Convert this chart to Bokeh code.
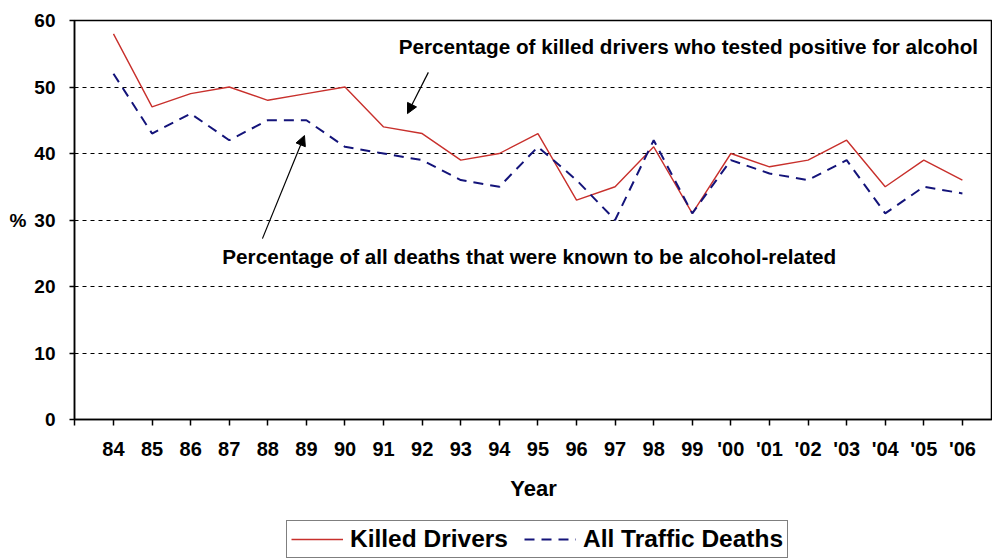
from bokeh.plotting import figure
from bokeh.layouts import column
from bokeh.models import (Range1d, FixedTicker, Legend, LegendItem, Label, Arrow,
                          NormalHead)
from bokeh.embed import file_html
from bokeh.resources import INLINE

# ---- data ----
years = ["84", "85", "86", "87", "88", "89", "90", "91", "92", "93", "94", "95",
         "96", "97", "98", "99", "'00", "'01", "'02", "'03", "'04", "'05", "'06"]
killed_drivers = [58, 47, 49, 50, 48, 49, 50, 44, 43, 39, 40, 43,
                  33, 35, 41, 31, 40, 38, 39, 42, 35, 39, 36]
all_traffic_deaths = [52, 43, 46, 42, 45, 45, 41, 40, 39, 36, 35, 41,
                      36, 30, 42, 31, 39, 37, 36, 39, 31, 35, 34]
y_ticks = [0, 10, 20, 30, 40, 50, 60]
series_names = ["Killed Drivers", "All Traffic Deaths"]

FONT = "Liberation Sans"
RED = "#c8302c"
BLUE = "#14147a"
x = list(range(len(years)))

p = figure(width=992, height=513, output_backend="svg", toolbar_location=None,
           x_range=Range1d(-1.01, 22.78), y_range=Range1d(0, 60),
           min_border_left=74, min_border_right=0, min_border_top=20,
           min_border_bottom=94)
p.background_fill_color = "white"
p.border_fill_color = "white"
p.outline_line_color = "black"
p.outline_line_width = 1.5

# axes
p.xaxis.ticker = FixedTicker(ticks=[-1] + x)
overrides = {-1: ""}
for i, yl in enumerate(years):
    overrides[i] = yl
p.xaxis.major_label_overrides = overrides
p.yaxis.ticker = FixedTicker(ticks=y_ticks)
for ax in (p.xaxis[0], p.yaxis[0]):
    ax.axis_line_color = "black"
    ax.axis_line_width = 1.5
    ax.major_tick_line_color = "black"
    ax.major_tick_line_width = 1.5
    ax.minor_tick_line_color = None
    ax.major_tick_in = 0
    ax.major_label_text_font = FONT
    ax.major_label_text_font_style = "bold"
    ax.major_label_text_color = "black"
    ax.axis_label_text_font = FONT
    ax.axis_label_text_font_style = "bold"
    ax.axis_label_text_color = "black"
p.xaxis.major_tick_out = 6
p.yaxis.major_tick_out = 5
p.xaxis.major_label_text_font_size = "20px"
p.yaxis.major_label_text_font_size = "19px"
p.xaxis.major_label_standoff = 12
p.yaxis.major_label_standoff = 14
p.xaxis.axis_label = "Year"
p.xaxis.axis_label_text_font_size = "22px"
p.xaxis.axis_label_standoff = 13
p.yaxis.axis_label = "%"
p.yaxis.axis_label_orientation = "horizontal"
p.yaxis.axis_label_text_font_size = "19px"
p.yaxis.axis_label_standoff = 5

p.xgrid.grid_line_color = None
p.ygrid.grid_line_color = "black"
p.ygrid.grid_line_dash = "4 4"
p.ygrid.grid_line_width = 1

p.line(x, killed_drivers, line_color=RED, line_width=1.4)
p.line(x, all_traffic_deaths, line_color=BLUE, line_width=2, line_dash="10 7")

# annotations
lab1 = Label(x=7.39, y=56.1, text="Percentage of killed drivers who tested positive for alcohol",
             text_font=FONT, text_font_style="bold", text_font_size="20.7px",
             text_baseline="middle", text_color="black")
lab2 = Label(x=2.82, y=24.5, text="Percentage of all deaths that were known to be alcohol-related",
             text_font=FONT, text_font_style="bold", text_font_size="20.7px",
             text_baseline="middle", text_color="black")
p.add_layout(lab1)
p.add_layout(lab2)
p.add_layout(Arrow(x_start=8.16, y_start=52.2, x_end=7.62, y_end=46.0,
                   line_color="black", line_width=1.2,
                   end=NormalHead(size=10, fill_color="black", line_color="black")))
p.add_layout(Arrow(x_start=3.86, y_start=27.2, x_end=4.95, y_end=42.7,
                   line_color="black", line_width=1.2,
                   end=NormalHead(size=10, fill_color="black", line_color="black")))

# legend strip below the chart (same series, drawn outside the visible range)
lg = figure(width=992, height=46, output_backend="svg", toolbar_location=None,
            x_range=Range1d(-1000, -999), y_range=Range1d(-1000, -999),
            min_border_left=0, min_border_right=0, min_border_top=0,
            min_border_bottom=0)
lg.axis.visible = False
lg.grid.grid_line_color = None
lg.outline_line_color = None
lg.background_fill_color = "white"
lg.border_fill_color = "white"
g1 = lg.line(x, killed_drivers, line_color=RED, line_width=1.4)
g2 = lg.line(x, all_traffic_deaths, line_color=BLUE, line_width=2, line_dash="10 7")
legend = Legend(items=[LegendItem(label=series_names[0], renderers=[g1]),
                       LegendItem(label=series_names[1], renderers=[g2])],
                location=(212, 1), orientation="horizontal")
legend.label_text_font = FONT
legend.label_text_font_style = "bold"
legend.label_text_font_size = "24.5px"
legend.label_text_color = "black"
legend.glyph_width = 52
legend.label_standoff = 7
legend.spacing = 16
legend.padding = 4
legend.margin = 0
legend.border_line_color = "black"
legend.border_line_width = 1.5
legend.background_fill_color = "white"
legend.background_fill_alpha = 1
lg.add_layout(legend, "center")

layout = column(p, lg, spacing=0)
open("out.html", "w").write(file_html(layout, INLINE))
